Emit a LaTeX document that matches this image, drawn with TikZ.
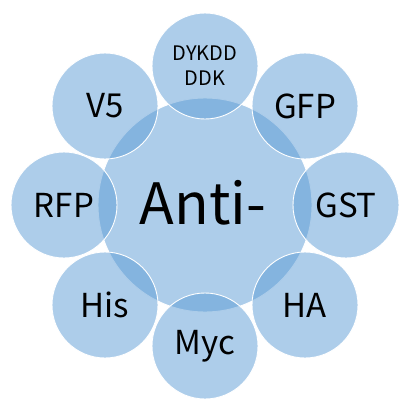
\documentclass[tikz,border=0pt]{standalone}
\usepackage{fontspec}
\setmainfont{Noto Sans CJK SC}
\definecolor{tagblue}{HTML}{5B9BD5}
\begin{document}
\begin{tikzpicture}[x=1pt,y=-1pt,
  disc/.style={circle,minimum size=106pt,inner sep=0pt,fill=tagblue,fill opacity=0.5,draw=white,line width=0.9pt,text opacity=1,font=\fontsize{33}{36}\selectfont},
  hub/.style={circle,minimum size=214pt,inner sep=0pt,fill=tagblue,fill opacity=0.5,draw=white,line width=0.9pt,text opacity=1,font=\fontsize{57}{60}\selectfont}]
\useasboundingbox (0,0) rectangle (412,410);
\node[hub] (anti) at (205,205) {};
\node at (203,203) {\fontsize{57}{60}\selectfont Anti-};
\node[disc] (flag) at (205,66) {};
\node[disc] (gfp) at (305,106) {};
\node[disc] (gst) at (346,205) {};
\node[disc] (ha) at (305,305) {};
\node[disc] (myc) at (205,346) {};
\node[disc] (his) at (105,305) {};
\node[disc] (rfp) at (64,205) {};
\node[disc] (v5) at (105,106) {};
\node[align=center,font=\fontsize{20}{25}\selectfont] at (flag) {DYKDD\\DDK};
\node[font=\fontsize{33}{36}\selectfont] at (gfp) {GFP};
\node[font=\fontsize{33}{36}\selectfont] at (gst) {GST};
\node[font=\fontsize{33}{36}\selectfont] at (ha) {HA};
\node[font=\fontsize{33}{36}\selectfont] at (myc) {Myc};
\node[font=\fontsize{33}{36}\selectfont] at (his) {His};
\node[font=\fontsize{33}{36}\selectfont] at (rfp) {RFP};
\node[font=\fontsize{33}{36}\selectfont] at (v5) {V5};
\end{tikzpicture}
\end{document}
